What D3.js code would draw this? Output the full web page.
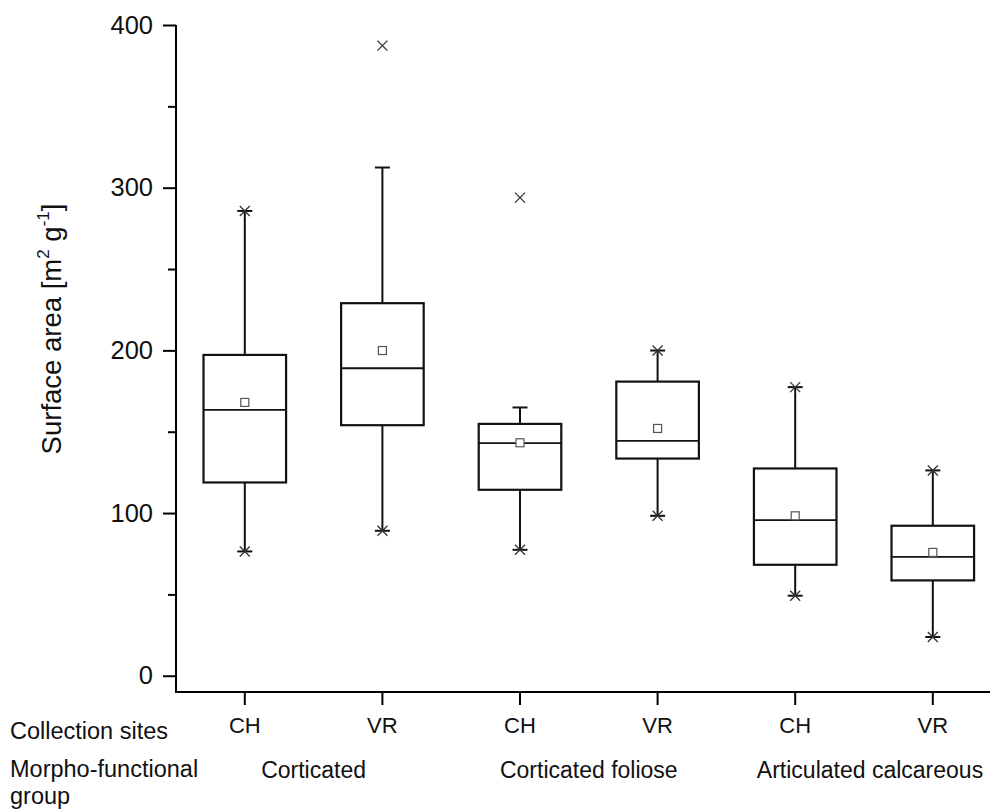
<!DOCTYPE html>
<html>
<head>
<meta charset="utf-8">
<script src="https://cdn.jsdelivr.net/npm/d3@7"></script>
<style>
  body { margin: 0; background: #fff; }
  svg { display: block; font-family: Arial, "Liberation Sans", sans-serif; }
  text { fill: #111; }
</style>
</head>
<body>
<svg id="chart" width="990" height="809"></svg>
<script>
// site under each box, morpho-functional group of each pair
var sites = ['CH', 'VR', 'CH', 'VR', 'CH', 'VR'];
var groups = ['Corticated', 'Corticated foliose', 'Articulated calcareous'];

// box statistics, surface area [m2 g-1]
var q1 = [118.8, 154.0, 114.3, 133.5, 68.2, 58.6];
var median = [163.4, 189.0, 143.0, 144.4, 95.7, 73.1];
var q3 = [197.2, 229.0, 154.8, 180.8, 127.4, 92.2];
var mean = [168.0, 199.9, 143.2, 152.0, 98.3, 75.8];
var whiskerLow = [76.4, 89.1, 77.4, 98.3, 49.2, 23.8];
var whiskerHigh = [285.7, 312.4, 164.9, 199.9, 177.4, 126.2];
// min / max points (drawn as x)
var minPoint = [76.4, 89.1, 77.4, 98.3, 49.2, 23.8];
var maxPoint = [285.7, 387.3, 293.9, 199.9, 177.4, 126.2];

var yMajor = [0, 100, 200, 300, 400];
var yMinor = [50, 150, 250, 350];

(function() {
  var svg = d3.select('#chart');
  var left = 176, top = 25, bottom = 692;
  var step = 137.6;

  var x = d3.scaleBand()
    .domain(d3.range(sites.length))
    .range([left, left + step * sites.length])
    .paddingInner(0.4)
    .paddingOuter(0.2);

  var y = d3.scaleLinear()
    .domain([-10, 400])
    .range([bottom, top]);

  var cx = function(i) { return x(i) + x.bandwidth() / 2; };

  // y axis
  var yAxis = svg.append('g')
    .attr('transform', 'translate(' + left + ',0)')
    .call(d3.axisLeft(y).tickValues(yMajor).tickSize(13).tickPadding(10));
  yAxis.select('.domain').remove();
  yAxis.selectAll('line').attr('stroke', '#000').attr('stroke-width', 2);
  yAxis.selectAll('text').attr('font-size', 25.5).attr('fill', '#111');

  var yMinorAxis = svg.append('g')
    .attr('transform', 'translate(' + left + ',0)')
    .call(d3.axisLeft(y).tickValues(yMinor).tickSize(8).tickFormat(''));
  yMinorAxis.select('.domain').remove();
  yMinorAxis.selectAll('line').attr('stroke', '#000').attr('stroke-width', 2);

  svg.append('line')
    .attr('x1', left).attr('x2', left)
    .attr('y1', top).attr('y2', bottom + 1)
    .attr('stroke', '#000').attr('stroke-width', 2);

  // x axis
  var xAxis = svg.append('g')
    .attr('transform', 'translate(0,' + bottom + ')')
    .call(d3.axisBottom(x).tickSize(13).tickPadding(12).tickFormat(function(i) { return sites[i]; }));
  xAxis.select('.domain').remove();
  xAxis.selectAll('line').attr('stroke', '#000').attr('stroke-width', 2);
  xAxis.selectAll('text').attr('font-size', 22).attr('fill', '#111');

  svg.append('line')
    .attr('x1', left - 1).attr('x2', 990)
    .attr('y1', bottom).attr('y2', bottom)
    .attr('stroke', '#000').attr('stroke-width', 2);

  // boxes
  var box = svg.append('g').selectAll('g')
    .data(d3.range(sites.length))
    .enter().append('g');

  // whiskers
  box.append('line')
    .attr('x1', cx).attr('x2', cx)
    .attr('y1', function(i) { return y(q3[i]); })
    .attr('y2', function(i) { return y(whiskerHigh[i]); })
    .attr('stroke', '#111').attr('stroke-width', 2);
  box.append('line')
    .attr('x1', cx).attr('x2', cx)
    .attr('y1', function(i) { return y(q1[i]); })
    .attr('y2', function(i) { return y(whiskerLow[i]); })
    .attr('stroke', '#111').attr('stroke-width', 2);

  // whisker caps
  [whiskerHigh, whiskerLow].forEach(function(arr) {
    box.append('line')
      .attr('x1', function(i) { return cx(i) - 7.5; })
      .attr('x2', function(i) { return cx(i) + 7.5; })
      .attr('y1', function(i) { return y(arr[i]); })
      .attr('y2', function(i) { return y(arr[i]); })
      .attr('stroke', '#111').attr('stroke-width', 2);
  });

  box.append('rect')
    .attr('x', function(i) { return x(i); })
    .attr('width', x.bandwidth())
    .attr('y', function(i) { return y(q3[i]); })
    .attr('height', function(i) { return y(q1[i]) - y(q3[i]); })
    .attr('fill', 'none')
    .attr('stroke', '#111').attr('stroke-width', 2.2);

  box.append('line')
    .attr('x1', function(i) { return x(i); })
    .attr('x2', function(i) { return x(i) + x.bandwidth(); })
    .attr('y1', function(i) { return y(median[i]); })
    .attr('y2', function(i) { return y(median[i]); })
    .attr('stroke', '#111').attr('stroke-width', 1.8);

  // mean
  box.append('rect')
    .attr('x', function(i) { return cx(i) - 4; })
    .attr('y', function(i) { return y(mean[i]) - 4; })
    .attr('width', 8).attr('height', 8)
    .attr('fill', '#fff')
    .attr('stroke', '#555').attr('stroke-width', 1.2);

  // min / max crosses
  var cross = function(i, v) {
    var px = cx(i), py = y(v), s = 5;
    return 'M' + (px - s) + ',' + (py - s) + 'L' + (px + s) + ',' + (py + s) +
      'M' + (px - s) + ',' + (py + s) + 'L' + (px + s) + ',' + (py - s);
  };
  [minPoint, maxPoint].forEach(function(arr) {
    box.append('path')
      .attr('d', function(i) { return cross(i, arr[i]); })
      .attr('fill', 'none')
      .attr('stroke', '#333').attr('stroke-width', 1.3);
  });

  // axis title
  var title = svg.append('text')
    .attr('transform', 'translate(61,329) rotate(-90)')
    .attr('text-anchor', 'middle')
    .attr('font-size', 27.5);
  title.append('tspan').text('Surface area [m');
  title.append('tspan').attr('font-size', 17).attr('dy', -12).text('2');
  title.append('tspan').attr('dy', 12).text(' g');
  title.append('tspan').attr('font-size', 17).attr('dy', -12).text('-1');
  title.append('tspan').attr('dy', 12).text(']');

  // bottom labels
  svg.append('text').attr('x', 10).attr('y', 739).attr('font-size', 23.5).text('Collection sites');
  svg.append('text').attr('x', 10).attr('y', 777).attr('font-size', 23.5).text('Morpho-functional');
  svg.append('text').attr('x', 10).attr('y', 803.5).attr('font-size', 23.5).text('group');

  svg.append('g').selectAll('text')
    .data(groups)
    .enter().append('text')
    .attr('x', function(d, g) { return (cx(2 * g) + cx(2 * g + 1)) / 2 + (g === 2 ? 6 : 0); })
    .attr('y', 778)
    .attr('text-anchor', 'middle')
    .attr('font-size', 23)
    .text(function(d) { return d; });
})();
</script>
</body>
</html>
